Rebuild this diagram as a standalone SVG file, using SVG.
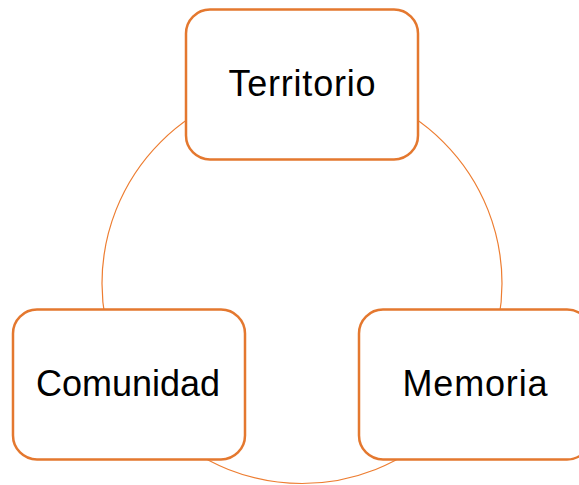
<svg xmlns="http://www.w3.org/2000/svg" width="579" height="485" viewBox="0 0 579 485">
<style>
.box{fill:#FFFFFF;stroke:#E4782F;stroke-width:2.5}
.lbl{font-family:"Liberation Sans",Arial,sans-serif;font-size:36px;fill:#000000;text-anchor:middle}
.ring{fill:none;stroke:#ED7D31;stroke-width:1.2}
</style>
<rect width="579" height="485" fill="#FFFFFF"/>
<g id="connectors">
<circle class="ring" cx="302" cy="283.5" r="200"/>
</g>
<g id="territorio">
<rect class="box" x="186" y="9.5" width="232" height="150" rx="24" ry="24"/>
<text class="lbl" x="302" y="96" textLength="147" lengthAdjust="spacing">Territorio</text>
</g>
<g id="comunidad">
<rect class="box" x="13" y="309.5" width="232" height="150" rx="24" ry="24"/>
<text class="lbl" x="128" y="396" textLength="184" lengthAdjust="spacing">Comunidad</text>
</g>
<g id="memoria">
<rect class="box" x="359" y="309.5" width="232" height="150" rx="24" ry="24"/>
<text class="lbl" x="475" y="396" textLength="145" lengthAdjust="spacing">Memoria</text>
</g>
</svg>
